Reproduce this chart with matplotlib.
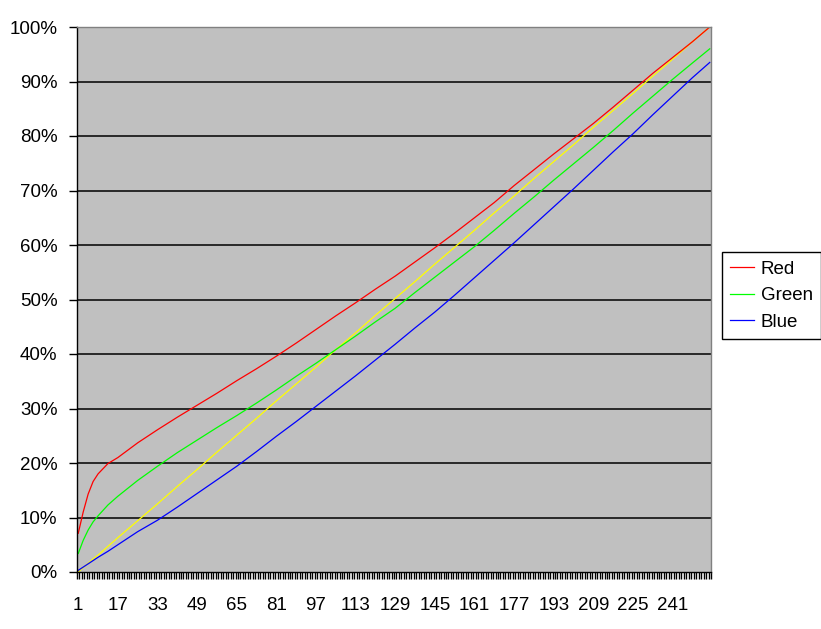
import matplotlib
matplotlib.use("Agg")
import matplotlib.pyplot as plt
import numpy as np

plt.rcParams['font.family'] = ['Liberation Sans', 'DejaVu Sans']

cats = [1, 3, 5, 7, 9, 13, 17, 25, 33, 41, 49, 57, 65, 73, 81, 89, 97, 105,
        113, 121, 129, 137, 145, 153, 161, 169, 177, 185, 193, 201, 209, 217,
        225, 233, 241, 249, 256]

red = [7.1, 11.0, 14.3, 16.6, 18.0, 19.9, 21.0, 23.7, 26.1, 28.4, 30.6, 32.8,
       35.1, 37.3, 39.6, 42.0, 44.5, 47.0, 49.4, 51.9, 54.3, 56.9, 59.5, 62.2,
       65.0, 67.8, 70.9, 73.8, 76.7, 79.5, 82.3, 85.3, 88.4, 91.5, 94.4, 97.3,
       100.0]
green = [3.4, 5.8, 7.7, 9.2, 10.3, 12.3, 13.9, 16.8, 19.4, 21.9, 24.2, 26.5,
         28.7, 31.0, 33.4, 35.9, 38.3, 40.8, 43.3, 45.9, 48.4, 51.3, 54.1, 56.9,
         59.7, 62.7, 65.8, 68.8, 71.9, 74.9, 77.9, 81.0, 84.2, 87.3, 90.4, 93.4,
         96.0]
blue = [0.3, 0.9, 1.5, 2.1, 2.7, 3.8, 5.0, 7.4, 9.5, 11.9, 14.4, 16.9, 19.4,
        22.1, 24.9, 27.6, 30.4, 33.2, 36.0, 38.9, 41.8, 44.8, 47.7, 50.8, 54.0,
        57.2, 60.4, 63.7, 67.0, 70.3, 73.7, 77.1, 80.4, 83.9, 87.3, 90.7, 93.5]
yellow = [0.0, 0.8, 1.6, 2.4, 3.1, 4.7, 6.3, 9.4, 12.5, 15.7, 18.8, 22.0,
          25.1, 28.2, 31.4, 34.5, 37.6, 40.8, 43.9, 47.1, 50.2, 53.3, 56.5,
          59.6, 62.7, 65.9, 69.0, 72.2, 75.3, 78.4, 81.6, 84.7, 87.8, 91.0,
          94.1, 97.3, 100.0]

n_cats = 256
x_labels = [1, 17, 33, 49, 65, 81, 97, 113, 129, 145, 161, 177, 193, 209, 225, 241]
y_ticks = [0, 10, 20, 30, 40, 50, 60, 70, 80, 90, 100]

fig = plt.figure(figsize=(8.21, 6.29), dpi=100)
ax = fig.add_axes([77 / 821, 57 / 629, 634 / 821, 545 / 629])
ax.set_facecolor('#C0C0C0')

ax.plot(cats, yellow, color='#FFFF00', lw=0.9)
l_red, = ax.plot(cats, red, color='#FF0000', lw=0.9, label='Red')
l_green, = ax.plot(cats, green, color='#00FF00', lw=0.9, label='Green')
l_blue, = ax.plot(cats, blue, color='#0000FF', lw=0.9, label='Blue')

ax.set_xlim(0.5, n_cats + 0.5)
ax.set_ylim(0, 100)

for yv in y_ticks[1:]:
    ax.axhline(yv, color='black', lw=1.1, zorder=1)

ax.set_yticks(y_ticks)
ax.set_yticklabels([f"{v}%" for v in y_ticks], fontsize=13.5)
ax.tick_params(axis='y', length=6, width=1, pad=8, color='black')

# tick marks at category boundaries, labels at category centres
ax.set_xticks(np.arange(0.5, n_cats + 1, 1))
ax.set_xticklabels([])
ax.tick_params(axis='x', which='major', length=5, width=1, color='black')
ax.set_xticks(x_labels, minor=True)
ax.set_xticklabels([str(v) for v in x_labels], minor=True, fontsize=13.5)
ax.tick_params(axis='x', which='minor', length=0, pad=18)

ax.spines['left'].set_color('black')
ax.spines['bottom'].set_color('black')
ax.spines['top'].set_color('#808080')
ax.spines['right'].set_color('#808080')
for s in ax.spines.values():
    s.set_linewidth(1)

leg = fig.legend(handles=[l_red, l_green, l_blue], loc='upper left',
                 bbox_to_anchor=(722 / 821, 1 - 252 / 629), fontsize=13.5,
                 fancybox=False, framealpha=1, edgecolor='black',
                 handlelength=1.25, handletextpad=0.37, borderpad=0.45,
                 labelspacing=0.5, borderaxespad=0)
leg.get_frame().set_linewidth(1)

fig.savefig('out.png', dpi=100)
